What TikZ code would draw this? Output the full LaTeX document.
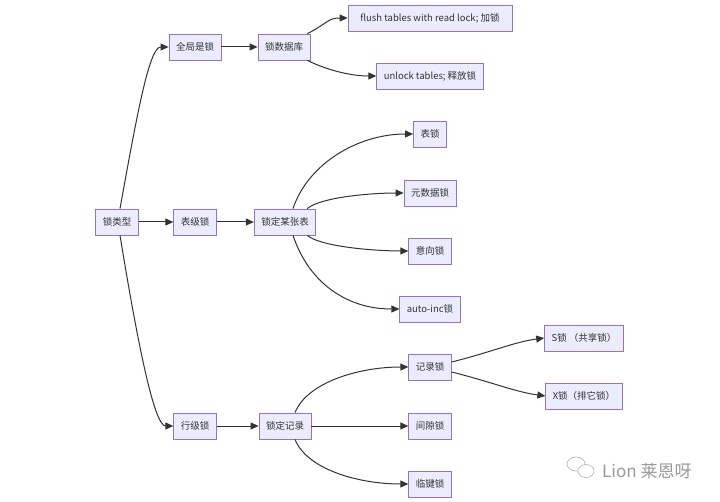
\documentclass[tikz,border=0pt]{standalone}
\usepackage{fontspec}
\setmainfont{Noto Sans CJK SC}
\usetikzlibrary{arrows.meta}
\definecolor{boxfill}{HTML}{ECECFF}
\definecolor{boxline}{HTML}{9370DB}
\definecolor{linkc}{HTML}{333333}
\begin{document}
\begin{tikzpicture}[x=1pt,y=-1pt,>={Triangle[length=8pt,width=7pt]},every node/.style={font=\fontsize{9.5}{11}\selectfont,text=linkc},b/.style={draw=boxline,fill=boxfill,line width=0.8pt,minimum height=26pt,inner xsep=7pt,inner ysep=0pt},l/.style={->,draw=linkc,line width=1pt}]
\useasboundingbox[fill=white] (0,0) rectangle (720,502);
\node[b] (type) at (117,222) {锁类型};
\node[b] (global) at (195,47) {全局是锁};
\node[b] (db) at (284,47) {锁数据库};
\node[b,minimum width=164pt] (flush) at (430,18) {flush tables with read lock; 加锁};
\node[b] (unlock) at (430,76) {unlock tables; 释放锁};
\node[b] (table) at (195,222) {表级锁};
\node[b] (onetable) at (285,222) {锁定某张表};
\node[b] (tlock) at (430,134) {表锁};
\node[b] (mdl) at (430,193) {元数据锁};
\node[b] (intent) at (430,251) {意向锁};
\node[b] (autoinc) at (430,309) {auto-inc锁};
\node[b] (row) at (195,426) {行级锁};
\node[b] (record) at (285,426) {锁定记录};
\node[b] (reclock) at (430,367) {记录锁};
\node[b] (gap) at (430,426) {间隙锁};
\node[b] (nextkey) at (430,484) {临键锁};
\node[b] (slock) at (584,338) {S锁 （共享锁）};
\node[b] (xlock) at (584,396) {X锁（排它锁）};
% 水印
\draw[black!30,line width=0.6pt] (576,464) ellipse [x radius=9,y radius=7];
\draw[black!30,line width=0.6pt,fill=white] (586,471) ellipse [x radius=8,y radius=6.5];
\node[font=\fontsize{17}{19}\selectfont,text=black!40,anchor=west,inner sep=0pt] (mark) at (602,471) {Lion 莱恩呀};
% 全局锁
\draw[l] ([xshift=3pt]type.north) .. controls +(18,-100) and +(-19,0) .. (global.west);
\draw[l] (global)--(db);
\draw[l] ([xshift=-3pt]db.north east) .. controls +(20,-10) and +(-20,0) .. (flush.west);
\draw[l] ([xshift=-3pt]db.south east) .. controls +(20,10) and +(-25,0) .. (unlock.west);
% 表级锁
\draw[l] (type)--(table);
\draw[l] (table)--(onetable);
\draw[l] ([xshift=8pt]onetable.north) .. controls +(15,-45) and +(-55,0) .. (tlock.west);
\draw[l] ([xshift=-9pt]onetable.north east) .. controls +(15,-12) and +(-30,0) .. (mdl.west);
\draw[l] ([xshift=-9pt]onetable.south east) .. controls +(15,12) and +(-30,0) .. (intent.west);
\draw[l] ([xshift=8pt]onetable.south) .. controls +(15,45) and +(-55,0) .. (autoinc.west);
% 行级锁
\draw[l] ([xshift=3pt]type.south) .. controls +(18,110) and +(-19,0) .. (row.west);
\draw[l] (row)--(record);
\draw[l] ([xshift=10pt]record.north) .. controls +(12,-30) and +(-50,0) .. (reclock.west);
\draw[l] (record)--(gap);
\draw[l] ([xshift=10pt]record.south) .. controls +(12,30) and +(-50,0) .. (nextkey.west);
\draw[l] ([yshift=5pt]reclock.east) .. controls +(40,-10) and +(-30,4) .. (slock.west);
\draw[l] ([yshift=-5pt]reclock.east) .. controls +(40,10) and +(-30,-4) .. (xlock.west);
\end{tikzpicture}
\end{document}
